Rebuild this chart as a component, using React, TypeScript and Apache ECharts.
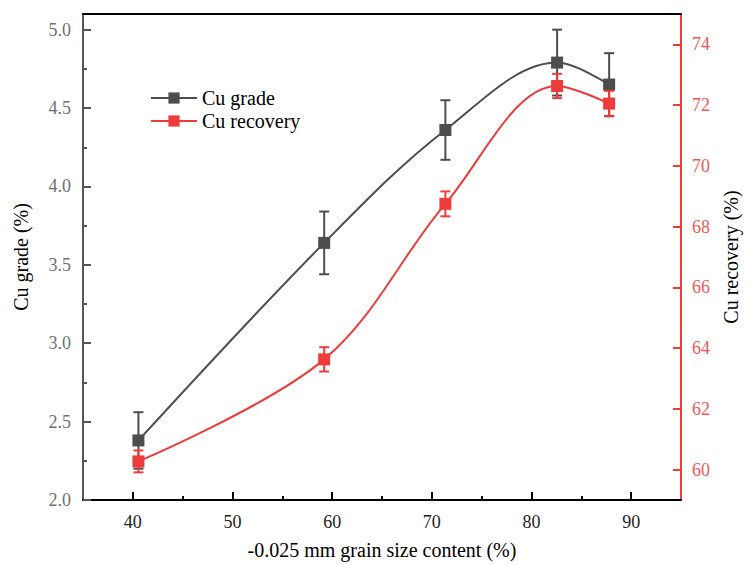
import React, { useEffect, useRef } from "react";
import * as echarts from "echarts";

const xContent = [40.56, 59.2, 71.36, 82.57, 87.79];
const cuGrade = [2.38, 3.64, 4.36, 4.79, 4.65];
const cuGradeErr = [0.18, 0.2, 0.19, 0.21, 0.2];
const cuRecovery = [60.27, 63.63, 68.75, 72.63, 72.05];
const cuRecoveryErr = [0.36, 0.4, 0.41, 0.4, 0.42];

const xMajorTicks = [40, 50, 60, 70, 80, 90];
const xMinorTicks = [45, 55, 65, 75, 85];
const gradeMajorTicks = [2.0, 2.5, 3.0, 3.5, 4.0, 4.5, 5.0];
const gradeMinorTicks = [2.25, 2.75, 3.25, 3.75, 4.25, 4.75];
const recoveryTicks = [60, 62, 64, 66, 68, 70, 72, 74];

const X_MIN = 35;
const X_MAX = 95;
const GRADE_MIN = 2;
const GRADE_MAX = 5.1;
const REC_MIN = 59;
const REC_MAX = 75;

const FONT = "Liberation Serif";
const LABEL_FONT = "18px 'Liberation Serif', 'Times New Roman', serif";
const GRAY = "#4d4d4d";
const RED = "#ee3b3b";

function errorBar(color: string) {
  return (params: any, api: any) => {
    const x = api.value(0);
    const lo = api.value(1);
    const hi = api.value(2);
    const pLo = api.coord([x, lo]);
    const pHi = api.coord([x, hi]);
    const w = 5;
    const style = { stroke: color, lineWidth: 2 };
    return {
      type: "group",
      children: [
        { type: "line", shape: { x1: pLo[0], y1: pLo[1], x2: pHi[0], y2: pHi[1] }, style },
        { type: "line", shape: { x1: pHi[0] - w, y1: pHi[1], x2: pHi[0] + w, y2: pHi[1] }, style },
        { type: "line", shape: { x1: pLo[0] - w, y1: pLo[1], x2: pLo[0] + w, y2: pLo[1] }, style },
      ],
    };
  };
}

export default function App() {
  const ref = useRef<HTMLDivElement>(null);
  useEffect(() => {
    if (!ref.current) return;
    const chart = echarts.init(ref.current, null, { renderer: "svg" });
    const gradeData = xContent.map((x, i) => [x, cuGrade[i]]);
    const recData = xContent.map((x, i) => [x, cuRecovery[i]]);
    const gradeErr = xContent.map((x, i) => [x, cuGrade[i] - cuGradeErr[i], cuGrade[i] + cuGradeErr[i]]);
    const recErr = xContent.map((x, i) => [x, cuRecovery[i] - cuRecoveryErr[i], cuRecovery[i] + cuRecoveryErr[i]]);
    chart.setOption({
      animation: false,
      textStyle: { fontFamily: FONT },
      grid: { left: 83, right: 61, top: 14, bottom: 64 },
      legend: {
        data: ["Cu grade", "Cu recovery"],
        left: 145,
        top: 83,
        orient: "vertical",
        itemWidth: 46,
        itemHeight: 14,
        itemGap: 3,
        textStyle: { fontFamily: FONT, fontSize: 20, color: "#000" },
      },
      xAxis: [
        {
          type: "value",
          min: X_MIN,
          max: X_MAX,
          position: "bottom",
          name: "-0.025 mm grain size content (%)",
          nameLocation: "middle",
          nameGap: 40,
          nameTextStyle: { fontFamily: FONT, fontSize: 20, color: "#000" },
          axisLine: { show: true, lineStyle: { color: "#000", width: 2 } },
          axisTick: { show: true, inside: true, length: 8, lineStyle: { color: "#000", width: 2 }, customValues: xMajorTicks },
          axisLabel: { show: false },
          splitLine: { show: false },
        },
        {
          type: "value",
          min: X_MIN,
          max: X_MAX,
          position: "bottom",
          axisLine: { show: false },
          axisTick: { show: true, inside: true, length: 4, lineStyle: { color: "#000", width: 2 }, customValues: xMinorTicks },
          axisLabel: { show: false },
          splitLine: { show: false },
        },
        {
          type: "value",
          min: X_MIN,
          max: X_MAX,
          position: "top",
          axisLine: { show: true, lineStyle: { color: "#000", width: 2 } },
          axisTick: { show: false },
          axisLabel: { show: false },
          splitLine: { show: false },
        },
      ],
      yAxis: [
        {
          type: "value",
          min: GRADE_MIN,
          max: GRADE_MAX,
          position: "left",
          name: "Cu grade (%)",
          nameLocation: "middle",
          nameRotate: 90,
          nameGap: 52,
          nameTextStyle: { fontFamily: FONT, fontSize: 20, color: "#000" },
          axisLine: { show: true, lineStyle: { color: "#555", width: 2 } },
          axisTick: { show: true, inside: true, length: 8, lineStyle: { color: "#555", width: 2 }, customValues: gradeMajorTicks },
          axisLabel: { show: false },
          splitLine: { show: false },
        },
        {
          type: "value",
          min: REC_MIN,
          max: REC_MAX,
          position: "right",
          name: "Cu recovery (%)",
          nameLocation: "middle",
          nameRotate: 90,
          nameGap: 40,
          nameTextStyle: { fontFamily: FONT, fontSize: 20, color: "#000" },
          axisLine: { show: true, lineStyle: { color: RED, width: 2 } },
          axisTick: { show: true, inside: true, length: 8, lineStyle: { color: RED, width: 2 }, customValues: recoveryTicks },
          axisLabel: { show: false },
          splitLine: { show: false },
        },
        {
          type: "value",
          min: GRADE_MIN,
          max: GRADE_MAX,
          position: "left",
          axisLine: { show: false },
          axisTick: { show: true, inside: true, length: 4, lineStyle: { color: "#555", width: 2 }, customValues: gradeMinorTicks },
          axisLabel: { show: false },
          splitLine: { show: false },
        },
      ],
      series: [
        {
          name: "Cu grade",
          type: "line",
          xAxisIndex: 0,
          yAxisIndex: 0,
          data: gradeData,
          smooth: 0.35,
          symbol: "rect",
          symbolSize: 12,
          itemStyle: { color: GRAY },
          lineStyle: { color: GRAY, width: 2 },
          z: 3,
        },
        {
          name: "grade-err",
          type: "custom",
          xAxisIndex: 0,
          yAxisIndex: 0,
          data: gradeErr,
          encode: { x: 0, y: [1, 2] },
          renderItem: errorBar(GRAY),
          z: 2,
        },
        {
          name: "Cu recovery",
          type: "line",
          xAxisIndex: 0,
          yAxisIndex: 1,
          data: recData,
          smooth: 0.35,
          symbol: "rect",
          symbolSize: 12,
          itemStyle: { color: RED },
          lineStyle: { color: RED, width: 2 },
          z: 5,
        },
        {
          name: "recovery-err",
          type: "custom",
          xAxisIndex: 0,
          yAxisIndex: 1,
          data: recErr,
          encode: { x: 0, y: [1, 2] },
          renderItem: errorBar(RED),
          z: 4,
        },
      ],
    });

    // Tick labels placed through the chart's own axis scales
    const px = (v: number) => chart.convertToPixel({ xAxisIndex: 0 }, v) as number;
    const pyG = (v: number) => chart.convertToPixel({ yAxisIndex: 0 }, v) as number;
    const pyR = (v: number) => chart.convertToPixel({ yAxisIndex: 1 }, v) as number;
    const bottomY = pyG(GRADE_MIN);
    const leftX = px(X_MIN);
    const rightX = px(X_MAX);
    const labels: any[] = [];
    xMajorTicks.forEach((v) =>
      labels.push({
        type: "text",
        x: px(v),
        y: bottomY + 13,
        silent: true,
        style: { text: String(v), font: LABEL_FONT, fill: "#222", align: "center", verticalAlign: "top" },
      })
    );
    gradeMajorTicks.forEach((v) =>
      labels.push({
        type: "text",
        x: leftX - 12,
        y: pyG(v),
        silent: true,
        style: { text: v.toFixed(1), font: LABEL_FONT, fill: "#707070", align: "right", verticalAlign: "middle" },
      })
    );
    recoveryTicks.forEach((v) =>
      labels.push({
        type: "text",
        x: rightX + 11,
        y: pyR(v),
        silent: true,
        style: { text: String(v), font: LABEL_FONT, fill: "#f25757", align: "left", verticalAlign: "middle" },
      })
    );
    chart.setOption({ graphic: labels });

    return () => chart.dispose();
  }, []);
  return (
    <div
      ref={ref}
      style={{ position: "fixed", left: 0, top: 0, width: 749, height: 565, background: "#fff" }}
    />
  );
}
